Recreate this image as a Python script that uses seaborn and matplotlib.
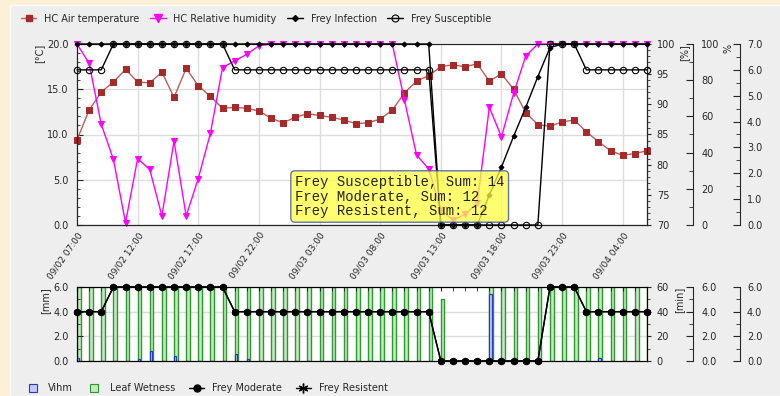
import matplotlib
matplotlib.use("Agg")
import matplotlib.pyplot as plt
import seaborn as sns
from matplotlib.lines import Line2D
from matplotlib.patches import Rectangle
from matplotlib.ticker import MultipleLocator, FormatStrFormatter

sns.set_style("white")
plt.rcParams["font.family"] = ["DejaVu Sans"]
plt.rcParams["font.size"] = 7

# hourly points, 09/02 07:00 .. 09/04 06:00
hours = list(range(48))
tick_labels = ["09/02 07:00", "09/02 12:00", "09/02 17:00", "09/02 22:00",
               "09/03 03:00", "09/03 08:00", "09/03 13:00", "09/03 18:00",
               "09/03 23:00", "09/04 04:00"]

air_temp = [9.4, 12.7, 14.7, 15.8, 17.2, 15.8, 15.7, 16.9, 14.1, 17.3, 15.4, 14.2,
            12.9, 13.0, 12.9, 12.6, 11.8, 11.3, 11.9, 12.3, 12.1, 11.9, 11.6, 11.2,
            11.3, 11.7, 12.7, 14.6, 15.9, 16.5, 17.5, 17.7, 17.5, 17.8, 15.9, 16.7,
            15.0, 12.4, 11.1, 10.9, 11.4, 11.6, 10.3, 9.2, 8.2, 7.7, 7.9, 8.2]
rel_humidity = [100, 96.8, 86.7, 80.9, 70.4, 81.0, 79.2, 71.5, 83.9, 71.5, 77.7, 85.2,
                96.1, 97.2, 98.3, 99.7, 100, 100, 100, 100, 100, 100, 100, 100,
                100, 100, 100, 90.7, 81.6, 79.3, 72.5, 70.8, 71.8, 73.6, 89.5, 84.6,
                91.8, 98.0, 100, 100, 100, 100, 100, 100, 100, 100, 100, 100]
frey_infection = [100] * 30 + [0, 0, 0, 0, 16.6, 32, 49, 65, 82, 98] + [100] * 8
frey_susceptible = [6, 6, 6] + [7] * 10 + [6] * 17 + [0] * 9 + [7, 7, 7] + [6] * 6
frey_moderate = [4, 4, 4] + [6] * 10 + [4] * 17 + [0] * 9 + [6, 6, 6] + [4] * 6
frey_resistent = [4, 4, 4] + [6] * 10 + [4] * 17 + [0] * 9 + [6, 6, 6] + [4] * 6
leaf_wetness = [60] * 30 + [50, 0, 0, 0] + [60] * 14
vihm = [0.22, 0, 0, 0, 0, 0.2, 0.85, 0, 0.4, 0, 0, 0,
        0, 0.6, 0.2, 0, 0, 0, 0, 0, 0, 0, 0, 0,
        0, 0, 0, 0, 0, 0, 0, 0, 0, 0, 5.4, 0,
        0, 0, 0, 0, 0, 0, 0, 0.25, 0, 0, 0, 0]
sums = [("Frey Susceptible", 14), ("Frey Moderate", 12), ("Frey Resistent", 12)]

W, H = 780, 396
fig = plt.figure(figsize=(W / 100, H / 100), dpi=100)
fig.patch.set_facecolor("#fdf0d8")
fig.add_artist(Rectangle((10 / W, 0), 1, 1 - 5 / H, transform=fig.transFigure,
                         facecolor="#eeeeee", edgecolor="#fbfbfb", lw=1, zorder=-10))

ax = fig.add_axes([77 / W, 171 / H, 570 / W, 181 / H])
axb = fig.add_axes([77 / W, 35 / H, 570 / W, 74 / H])


def side_axis(base, pos, lo, hi, major, minor, fmt, pad):
    tw = base.twinx()
    tw.spines["right"].set_position(("axes", pos))
    for s in ["left", "top", "bottom"]:
        tw.spines[s].set_visible(False)
    tw.set_ylim(lo, hi)
    tw.yaxis.set_major_locator(MultipleLocator(major))
    tw.yaxis.set_minor_locator(MultipleLocator(minor))
    tw.yaxis.set_major_formatter(FormatStrFormatter(fmt))
    tw.tick_params(axis="y", which="major", direction="in", length=5, pad=pad, labelsize=7)
    tw.tick_params(axis="y", which="minor", direction="in", length=3)
    return tw


# ---------- top chart ----------
ax.set_xlim(0, 47)
ax.set_ylim(0, 20)
ax.yaxis.set_major_locator(MultipleLocator(5))
ax.yaxis.set_minor_locator(MultipleLocator(1))
ax.yaxis.set_major_formatter(FormatStrFormatter("%.1f"))
ax.tick_params(axis="y", which="major", direction="in", length=4, pad=6, labelsize=7)
ax.tick_params(axis="y", which="minor", direction="in", length=2.5)
ax.set_xticks(range(0, 48, 5))
ax.set_xticklabels(tick_labels, rotation=55, ha="right", rotation_mode="anchor")
ax.xaxis.set_minor_locator(MultipleLocator(1))
ax.tick_params(axis="x", which="major", direction="in", length=4, pad=4, labelsize=6.5)
ax.tick_params(axis="x", which="minor", direction="in", length=3)
ax.grid(True, which="major", color="#dddddd", lw=1)
ax.set_axisbelow(True)
for s in ax.spines.values():
    s.set_color("black")
    s.set_linewidth(0.8)
ax.spines["top"].set_color("#999999")
ax.set_ylabel("[°C]", loc="top", labelpad=2)

ax_h = ax.twinx()
ax_h.set_ylim(70, 100)
ax_h.yaxis.set_major_locator(MultipleLocator(5))
ax_h.yaxis.set_minor_locator(MultipleLocator(1))
ax_h.tick_params(axis="y", which="major", direction="out", length=3, pad=4, labelsize=7)
ax_h.tick_params(axis="y", which="minor", direction="out", length=2)
ax_h.set_ylabel("[%]", loc="top", labelpad=3)

ax_i = side_axis(ax, 616 / 570, 0, 100, 20, 10, "%d", 6)
ax_i.set_ylabel("%", loc="top", labelpad=3)
ax_s = side_axis(ax, 663 / 570, 0, 7, 1, 0.5, "%.1f", 5)

sns.lineplot(x=hours, y=air_temp, ax=ax, color="#bb5e5e", linewidth=1, marker="s",
             markersize=4.2, markerfacecolor="#a52a2a", markeredgecolor="#a52a2a",
             legend=False, clip_on=False)
sns.lineplot(x=hours, y=rel_humidity, ax=ax_h, color="#ff00ff", linewidth=1, marker="v",
             markersize=5, markerfacecolor="#ff00ff", markeredgecolor="#ff00ff",
             legend=False, clip_on=False)
sns.lineplot(x=hours, y=frey_infection, ax=ax_i, color="black", linewidth=1, marker="D",
             markersize=2.5, markerfacecolor="black", markeredgecolor="black",
             legend=False, clip_on=False)
sns.lineplot(x=hours, y=frey_susceptible, ax=ax_s, color="black", linewidth=1, marker="o",
             markersize=4.6, markerfacecolor="none", markeredgecolor="black",
             markeredgewidth=0.8, legend=False, clip_on=False)

tip = "\n".join(f"{name}, Sum: {total}" for name, total in sums)
fig.text(295 / W, 1 - 196.5 / H, tip, family="Liberation Mono", fontsize=10,
         color="#222222", va="center", ha="left", linespacing=1.05, zorder=20,
         bbox=dict(boxstyle="round,pad=0.3", facecolor="#ffff40", edgecolor="#3344aa",
                   alpha=0.75, lw=1))

# ---------- bottom chart ----------
ax_lw = axb.twinx()
ax_lw.set_ylim(0, 60)
ax_lw.yaxis.set_major_locator(MultipleLocator(20))
ax_lw.yaxis.set_minor_locator(MultipleLocator(10))
ax_lw.tick_params(axis="y", which="major", direction="out", length=3, pad=4, labelsize=7)
ax_lw.tick_params(axis="y", which="minor", direction="out", length=2)
ax_lw.set_ylabel("[min]", loc="top", labelpad=4)
ax_lw.grid(True, axis="y", color="#dddddd", lw=1)
ax_lw.set_axisbelow(True)
ax_lw.patch.set_visible(True)
ax_lw.patch.set_facecolor("white")
ax_lw.set_zorder(1)
axb.set_zorder(2)
axb.patch.set_visible(False)

ax_lw.bar(hours, leaf_wetness, width=0.3, align="edge", color="#c6e6c6",
          edgecolor="#2a9a2a", lw=1)
axb.bar(hours, vihm, width=0.18, align="edge", color="#c8c8f5", edgecolor="#1f3fbf", lw=0.9)

axb.set_xlim(0, 47)
axb.set_ylim(0, 6)
axb.yaxis.set_major_locator(MultipleLocator(2))
axb.yaxis.set_minor_locator(MultipleLocator(1))
axb.yaxis.set_major_formatter(FormatStrFormatter("%.1f"))
axb.tick_params(axis="y", which="major", direction="in", length=4, pad=6, labelsize=7)
axb.tick_params(axis="y", which="minor", direction="in", length=2.5)
axb.set_xticks(range(0, 48, 5))
axb.xaxis.set_minor_locator(MultipleLocator(1))
axb.tick_params(axis="x", which="both", direction="in", top=True, bottom=False,
                labeltop=False, labelbottom=False, length=3)
for s in axb.spines.values():
    s.set_color("black")
    s.set_linewidth(0.8)
axb.set_ylabel("[mm]", loc="top", labelpad=2)

ax_r = side_axis(axb, 663 / 570, 0, 6, 2, 1, "%.1f", 5)
ax_m = side_axis(axb, 616 / 570, 0, 6, 2, 1, "%.1f", 6)
ax_r.set_zorder(3)
ax_m.set_zorder(4)

sns.lineplot(x=hours, y=frey_resistent, ax=ax_r, color="black", linewidth=1, marker=(6, 2, 0),
             markersize=5, markeredgecolor="black", legend=False, clip_on=False)
sns.lineplot(x=hours, y=frey_moderate, ax=ax_m, color="black", linewidth=1, marker="o",
             markersize=4.6, markerfacecolor="black", markeredgecolor="black",
             legend=False, clip_on=False)

# ---------- legends ----------
top_handles = [
    Line2D([], [], color="#bb5e5e", lw=1, marker="s", ms=4.5, mfc="#a52a2a", mec="#a52a2a"),
    Line2D([], [], color="#ff00ff", lw=1, marker="v", ms=5.5, mfc="#ff00ff", mec="#ff00ff"),
    Line2D([], [], color="black", lw=1, marker="D", ms=3, mfc="black", mec="black"),
    Line2D([], [], color="black", lw=1, marker="o", ms=5, mfc="none", mec="black", mew=0.8),
]
fig.legend(top_handles, ["HC Air temperature", "HC Relative humidity", "Frey Infection",
                         "Frey Susceptible"],
           loc="upper left", bbox_to_anchor=(12 / W, 1 - 5 / H), ncol=4, frameon=False,
           fontsize=7, handlelength=1.6, handletextpad=0.8, columnspacing=1.1)

bottom_handles = [
    Line2D([], [], ls="none", marker="s", ms=6, mfc="#c8c8f5", mec="#1f3fbf", mew=0.8),
    Line2D([], [], ls="none", marker="s", ms=6, mfc="#c6e6c6", mec="#2a9a2a", mew=0.8),
    Line2D([], [], color="black", lw=1, marker="o", ms=5, mfc="black", mec="black"),
    Line2D([], [], color="black", lw=1, marker=(6, 2, 0), ms=7, mec="black"),
]
fig.legend(bottom_handles, ["Vihm", "Leaf Wetness", "Frey Moderate", "Frey Resistent"],
           loc="lower left", bbox_to_anchor=(16 / W, -6 / H), ncol=4, frameon=False,
           fontsize=7, handlelength=1.6, handletextpad=0.8, columnspacing=1.4)

fig.savefig("out.png", dpi=100, facecolor=fig.get_facecolor())
